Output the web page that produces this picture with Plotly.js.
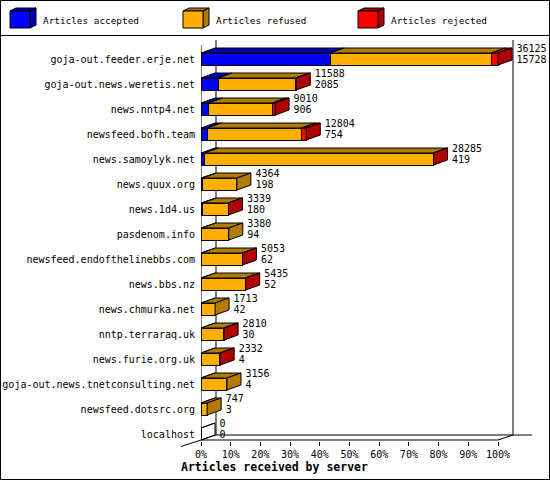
<!DOCTYPE html>
<html>
<head>
<meta charset="utf-8">
<script src="https://cdn.plot.ly/plotly-3.0.1.min.js"></script>
<style>
  html, body { margin: 0; padding: 0; background: #fff; }
  #chart { width: 550px; height: 480px; }
</style>
</head>
<body>
<div id="chart"></div>
<script>
// servers, top to bottom
const servers = [
  'goja-out.feeder.erje.net', 'goja-out.news.weretis.net', 'news.nntp4.net',
  'newsfeed.bofh.team', 'news.samoylyk.net', 'news.quux.org', 'news.1d4.us',
  'pasdenom.info', 'newsfeed.endofthelinebbs.com', 'news.bbs.nz',
  'news.chmurka.net', 'nntp.terraraq.uk', 'news.furie.org.uk',
  'goja-out.news.tnetconsulting.net', 'newsfeed.dotsrc.org', 'localhost'
];
// printed numbers: total offered, accepted
const totals   = [36125, 11588, 9010, 12804, 28285, 4364, 3339, 3380, 5053, 5435, 1713, 2810, 2332, 3156, 747, 0];
const accepted = [15728, 2085, 906, 754, 419, 198, 180, 94, 62, 52, 42, 30, 4, 4, 3, 0];
const refused  = [19597, 9383, 7744, 11450, 27806, 4166, 3119, 3286, 4951, 5323, 1671, 2740, 2298, 3152, 744, 0];
const rejected = [800, 120, 360, 600, 60, 0, 40, 0, 40, 60, 0, 40, 30, 0, 0, 0];

const tickPct = [0, 10, 20, 30, 40, 50, 60, 70, 80, 90, 100];

const seriesNames = ['Articles accepted', 'Articles refused', 'Articles rejected'];
const front = ['#0000ff', '#ffaf00', '#ff0000'];
const dark  = ['#0000b0', '#b27a00', '#b00000'];

// geometry (pixels -> axis units)
const L = 201, R = 1, T = 36, B = 39, W = 550, H = 480;
const PX_PER_PCT = 2.97, PX_PER_ROW = 25, ROW0 = 59;
const xMax = (W - L - R) / PX_PER_PCT;
const yTop = (T - ROW0) / PX_PER_ROW;
const yBot = (H - B - ROW0) / PX_PER_ROW;
const DX = 14 / PX_PER_PCT, DY = -5 / PX_PER_ROW, HALF = 6 / PX_PER_ROW;
const DXW = 15 / PX_PER_PCT;
const rowAt = py => (py - ROW0) / PX_PER_ROW;
const pxX = px => (px - L) / (W - L - R);
const pxY = py => (H - B - py) / (H - T - B);
const P = (x, y) => pxX(x) + ',' + pxY(y);

const maxTotal = Math.max(...totals);
const pct = v => v / maxTotal * 100;
const series = [accepted, refused, rejected];
const rows = servers.map((_, i) => i);

const font = 'DejaVu Sans Mono, monospace';

// front faces
const traces = series.map((vals, k) => ({
  type: 'bar', orientation: 'h', y: rows, x: vals.map(pct), width: 2 * HALF,
  marker: { color: front[k], line: { color: '#000', width: 1 } },
  name: seriesNames[k], showlegend: false, hoverinfo: 'skip'
}));

// top and side faces
const tops = series.map(() => ({ x: [], y: [] }));
const sides = series.map(() => ({ x: [], y: [] }));
const empty = { x: [], y: [] };
const ends = [];
rows.forEach(i => {
  const t = i - HALF, b = i + HALF;
  let x0 = 0, last = -1;
  series.forEach((vals, k) => {
    if (vals[i] <= 0) return;
    const w = pct(vals[i]);
    tops[k].x.push(x0, x0 + DX, x0 + w + DX, x0 + w, x0, null);
    tops[k].y.push(t, t + DY, t + DY, t, t, null);
    x0 += w; last = k;
  });
  const tgt = last >= 0 ? sides[last] : empty;
  if (last < 0) { tgt.x.push(0, DX, null); tgt.y.push(t, t + DY, null); }
  tgt.x.push(x0, x0 + DX, x0 + DX, x0, x0, null);
  tgt.y.push(t, t + DY, b + DY, b, t, null);
  ends.push(x0 + DX);
});
series.forEach((_, k) => {
  [tops[k], sides[k]].forEach(poly => traces.push({
    type: 'scatter', mode: 'lines', x: poly.x, y: poly.y, fill: 'toself',
    fillcolor: dark[k], line: { color: '#000', width: 1 },
    showlegend: false, hoverinfo: 'skip'
  }));
});
traces.push({
  type: 'scatter', mode: 'lines', x: empty.x, y: empty.y,
  line: { color: '#000', width: 1 }, showlegend: false, hoverinfo: 'skip'
});

// numbers at the bar ends
const GAP = 4.5 / PX_PER_PCT;
traces.push({
  type: 'scatter', mode: 'text', x: ends.map(e => e + GAP), y: rows.map(i => i - 0.38),
  text: totals.map(String), textposition: 'middle right', cliponaxis: false,
  textfont: { family: font, size: 10, color: '#000' }, showlegend: false, hoverinfo: 'skip'
});
traces.push({
  type: 'scatter', mode: 'text', x: ends.map(e => e + GAP), y: rows.map(i => i + 0.06),
  text: accepted.map(String), textposition: 'middle right', cliponaxis: false,
  textfont: { family: font, size: 10, color: '#000' }, showlegend: false, hoverinfo: 'skip'
});

// 3d frame
const yFront = rowAt(440), yBack = rowAt(435);
const line = (x0, y0, x1, y1) => ({
  type: 'line', xref: 'x', yref: 'y', x0, y0, x1, y1, layer: 'below',
  line: { color: '#000', width: 1 }
});
const shapes = [
  line(0, yFront, 100, yFront),
  line(0, rowAt(45), 0, yFront),
  line(DXW, rowAt(40), DXW, yBack),
  line(100 + DXW, rowAt(40), 100 + DXW, yBack),
  line(DXW, yBack, (532 - L) / PX_PER_PCT, yBack),
  line(0, yFront, DXW, yBack),
  line(100, yFront, 100 + DXW, yBack),
  { type: 'line', xref: 'paper', yref: 'paper', x0: pxX(181), y0: pxY(446.5), x1: pxX(201), y1: pxY(440),
    line: { color: '#000', width: 1 } },
  // border and legend separator
  { type: 'rect', xref: 'paper', yref: 'paper', x0: pxX(0.5), y0: pxY(0.5), x1: pxX(549.5), y1: pxY(479.5),
    line: { color: '#000', width: 1 } },
  { type: 'line', xref: 'paper', yref: 'paper', x0: pxX(0), y0: pxY(35.5), x1: pxX(550), y1: pxY(35.5),
    line: { color: '#000', width: 1 } }
];

// legend cubes
const annotations = [];
const legendX = [10, 183, 358];
seriesNames.forEach((name, k) => {
  const x = legendX[k];
  shapes.push({ type: 'path', xref: 'paper', yref: 'paper',
    path: 'M' + P(x, 11) + 'L' + P(x + 6, 8) + 'L' + P(x + 26, 8) + 'L' + P(x + 20, 11) + 'Z',
    fillcolor: dark[k], line: { color: '#000', width: 1 } });
  shapes.push({ type: 'path', xref: 'paper', yref: 'paper',
    path: 'M' + P(x + 20, 11) + 'L' + P(x + 26, 8) + 'L' + P(x + 26, 25) + 'L' + P(x + 20, 28) + 'Z',
    fillcolor: dark[k], line: { color: '#000', width: 1 } });
  shapes.push({ type: 'rect', xref: 'paper', yref: 'paper',
    x0: pxX(x), y0: pxY(11), x1: pxX(x + 20), y1: pxY(28),
    fillcolor: front[k], line: { color: '#000', width: 1 } });
  annotations.push({ xref: 'paper', yref: 'paper', x: pxX(x + 31), y: pxY(20),
    xanchor: 'left', yanchor: 'middle', showarrow: false, text: name,
    font: { family: font, size: 9.4, color: '#000' } });
});
annotations.push({ xref: 'paper', yref: 'paper', x: pxX(274), y: pxY(467),
  xanchor: 'center', yanchor: 'middle', showarrow: false,
  text: '<b>Articles received by server</b>',
  font: { family: font, size: 11.5, color: '#000' } });

const layout = {
  width: W, height: H,
  margin: { l: L, r: R, t: T, b: B, pad: 0 },
  paper_bgcolor: '#fff', plot_bgcolor: '#fff',
  barmode: 'stack', showlegend: false,
  xaxis: {
    range: [0, xMax], fixedrange: true, showgrid: false, zeroline: false, showline: false,
    tickmode: 'array', tickvals: tickPct, ticktext: tickPct.map(v => v + '%'),
    ticks: 'outside', ticklen: 4, tickcolor: '#000', tickwidth: 1,
    tickfont: { family: font, size: 10, color: '#000' }
  },
  yaxis: {
    range: [yBot, yTop], fixedrange: true, showgrid: false, zeroline: false, showline: false,
    tickmode: 'array', tickvals: rows, ticktext: servers,
    ticks: 'outside', ticklen: 3, tickcolor: 'rgba(0,0,0,0)',
    tickfont: { family: font, size: 10, color: '#000' }
  },
  shapes, annotations
};

Plotly.newPlot('chart', traces, layout, { staticPlot: true, displayModeBar: false });
</script>
</body>
</html>
